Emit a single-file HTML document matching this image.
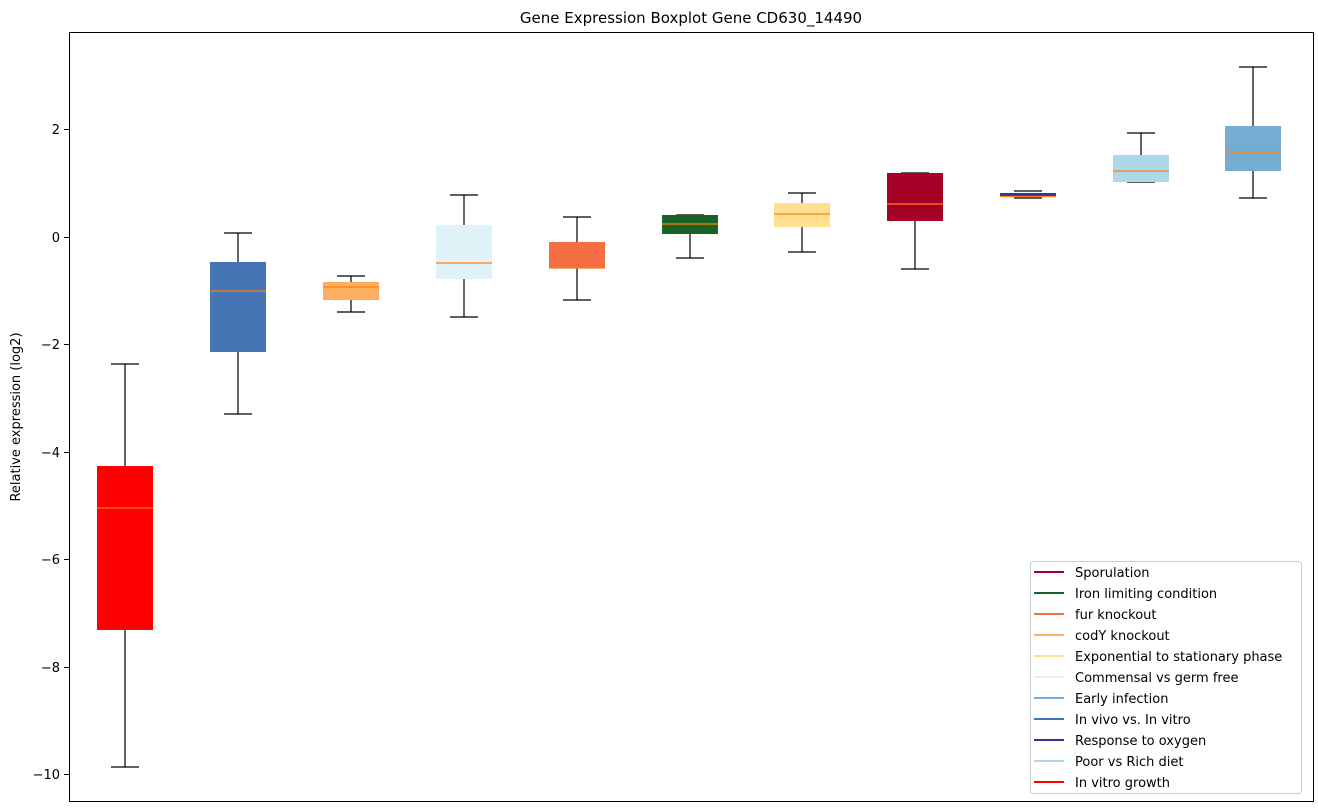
<!DOCTYPE html>
<html><head><meta charset="utf-8"><style>body{margin:0;background:#fff}svg{display:block;font-family:"DejaVu Sans","Liberation Sans",sans-serif}</style></head>
<body>
<svg width="1318" height="812" xmlns="http://www.w3.org/2000/svg">
<rect width="1318" height="812" fill="#fff"/>
<text x="691" y="23" font-size="15" text-anchor="middle" fill="#000">Gene Expression Boxplot Gene CD630_14490</text>
<text transform="translate(20,417) rotate(-90)" font-size="13" text-anchor="middle">Relative expression (log2)</text>
<g font-size="13" text-anchor="end" fill="#000">
<text x="60" y="134">2</text><text x="60" y="242">0</text><text x="60" y="349">−2</text><text x="60" y="457">−4</text><text x="60" y="564">−6</text><text x="60" y="672">−8</text><text x="60" y="779">−10</text>
</g>
<g stroke="#000" stroke-width="1">
<line x1="64" y1="129.5" x2="69" y2="129.5"/><line x1="64" y1="237.5" x2="69" y2="237.5"/><line x1="64" y1="344.5" x2="69" y2="344.5"/><line x1="64" y1="452.5" x2="69" y2="452.5"/><line x1="64" y1="559.5" x2="69" y2="559.5"/><line x1="64" y1="667.5" x2="69" y2="667.5"/><line x1="64" y1="774.5" x2="69" y2="774.5"/>
</g>
<g stroke="#000" stroke-width="1.2">
<path d="M125 364V466M125 630V767M111 364H139M111 767H139"/>
<path d="M238 233V262M238 352V414M224 233H252M224 414H252"/>
<path d="M351 276V282M351 300V312M337 276H365M337 312H365"/>
<path d="M464 195V225M464 279V317M450 195H478M450 317H478"/>
<path d="M577 217V242M577 268V300M563 217H591M563 300H591"/>
<path d="M690 234V258M676 258H704M676 215H704"/>
<path d="M802 193V203M802 227V252M788 193H816M788 252H816"/>
<path d="M915 221V269M901 173H929M901 269H929"/>
<path d="M1014 191H1042M1014 198H1042"/>
<path d="M1141 133V155M1127 133H1155M1127 182H1155"/>
<path d="M1253 67V126M1253 171V198M1239 67H1267M1239 198H1267"/>
</g>
<g>
<rect x="97" y="466" width="56" height="164" fill="#ff0000"/>
<rect x="210" y="262" width="56" height="90" fill="#4575b4"/>
<rect x="323" y="282" width="56" height="18" fill="#fdae61"/>
<rect x="436" y="225" width="56" height="54" fill="#e0f3f8"/>
<rect x="549" y="242" width="56" height="26" fill="#f46d43"/>
<rect x="662" y="215" width="56" height="19" fill="#1a6325"/>
<rect x="774" y="203" width="56" height="24" fill="#fee090"/>
<rect x="887" y="173" width="56" height="48" fill="#a50026"/>
<rect x="1000" y="193" width="56" height="3.5" fill="#313695"/>
<rect x="1113" y="155" width="56" height="27" fill="#abd9e9"/>
<rect x="1225" y="126" width="56" height="45" fill="#74add1"/>
</g>
<g stroke="#ff7f0e" stroke-width="1.2">
<path d="M97 508H153M210 291H266M323 287H379M436 263H492M549 268H605M662 224H718M774 214H830M887 204H943M1000 196.5H1056M1113 171H1169M1225 152H1281"/>
</g>
<rect x="69.5" y="32.5" width="1244" height="769" fill="none" stroke="#000" stroke-width="1"/>
<rect x="1030.5" y="561.5" width="271" height="232" rx="3" fill="#fff" stroke="#ccc"/>
<g font-size="13" fill="#000" stroke-width="2">
<line x1="1034" y1="572" x2="1064" y2="572" stroke="#a50026"/><text x="1075" y="577">Sporulation</text>
<line x1="1034" y1="593" x2="1064" y2="593" stroke="#1a6325"/><text x="1075" y="598">Iron limiting condition</text>
<line x1="1034" y1="614" x2="1064" y2="614" stroke="#f46d43"/><text x="1075" y="619">fur knockout</text>
<line x1="1034" y1="635" x2="1064" y2="635" stroke="#fdae61"/><text x="1075" y="640">codY knockout</text>
<line x1="1034" y1="656" x2="1064" y2="656" stroke="#fee090"/><text x="1075" y="661">Exponential to stationary phase</text>
<line x1="1034" y1="677" x2="1064" y2="677" stroke="#e0f3f8"/><text x="1075" y="682">Commensal vs germ free</text>
<line x1="1034" y1="698" x2="1064" y2="698" stroke="#74add1"/><text x="1075" y="703">Early infection</text>
<line x1="1034" y1="719" x2="1064" y2="719" stroke="#4575b4"/><text x="1075" y="724">In vivo vs. In vitro</text>
<line x1="1034" y1="740" x2="1064" y2="740" stroke="#313695"/><text x="1075" y="745">Response to oxygen</text>
<line x1="1034" y1="761" x2="1064" y2="761" stroke="#abd9e9"/><text x="1075" y="766">Poor vs Rich diet</text>
<line x1="1034" y1="782" x2="1064" y2="782" stroke="#ff0000"/><text x="1075" y="787">In vitro growth</text>
</g>
</svg>
</body></html>
